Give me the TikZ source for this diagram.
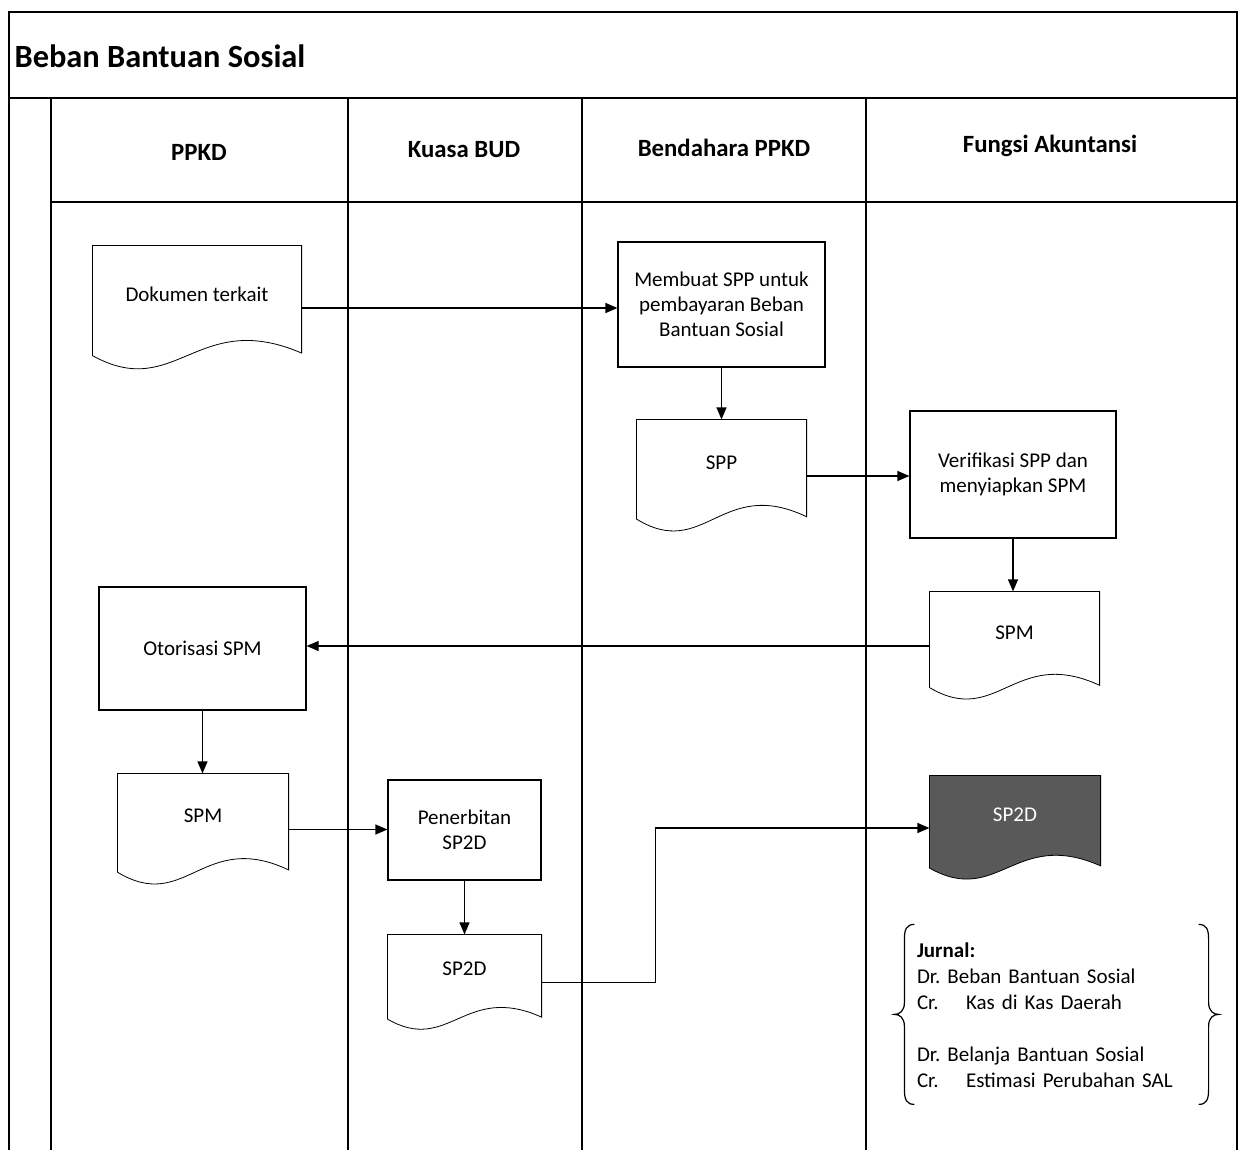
\documentclass[tikz,border=0pt]{standalone}
\usepackage{fontspec}
\setmainfont{Carlito}
\usetikzlibrary{arrows.meta,backgrounds,calc}

\tikzset{
  kotak/.style={draw, align=center},
  dokumen/.style={align=center, text height=7.5pt, text depth=14.5pt, inner sep=0pt},
  panah/.style={-{Triangle[length=6pt,width=5pt]}},
  lajur/.style={font=\bfseries\fontsize{12.4}{14}\selectfont}
}
% outline of a document symbol round a node
\newcommand\bentukdok[2][]{%
  \draw[#1] let \p1=(#2.south west), \p2=(#2.north east), \n1={\x2-\x1}, \n2={\y2-\y1} in
    (\x1,\y2) -- (\x2,\y2) -- ({\x2},{\y1+0.14*\n2})
    .. controls ({\x1+0.5*\n1},{\y1+0.5*\n2}) and ({\x1+0.4*\n1},{\y1-0.25*\n2}) .. ({\x1},{\y1+0.12*\n2}) -- cycle;}

\begin{document}
\begin{tikzpicture}[x=0.5pt, y=-0.5pt, line width=0.6pt, font=\fontsize{10.5}{12.5}\selectfont]
\useasboundingbox (0,0) rectangle (1246,1150);

% frame and lanes
\draw (9,1150) -- (9,12) -- (1237,12) -- (1237,1150);
\draw (9,98) -- (1237,98);
\draw (51,202) -- (1237,202);
\foreach \x in {51,348,582,866} \draw (\x,98) -- (\x,1150);

\node[anchor=west, inner sep=0pt, font=\bfseries\fontsize{16.2}{19}\selectfont] (judul) at (14,56) {Beban Bantuan Sosial};
\foreach \x/\y/\nm/\t in {199/152/ppkd/PPKD, 464/150/bud/Kuasa BUD, 724/148/bend/Bendahara PPKD, 1050/146/akun/Fungsi Akuntansi}
  \node[lajur] (\nm) at (\x,\y) {\t};

% steps
\node[dokumen, minimum width=104pt, minimum height=62pt] (dok) at (197,308) {Dokumen terkait};
\node[kotak, minimum width=103.5pt, minimum height=62.5pt] (buatspp) at (721.5,304.5) {Membuat SPP untuk\\pembayaran Beban\\Bantuan Sosial};
\node[dokumen, minimum width=84.5pt, minimum height=56pt] (spp) at (721.5,476) {SPP};
\node[kotak, minimum width=103pt, minimum height=63.5pt] (verif) at (1013,474.5) {Verifikasi SPP dan\\menyiapkan SPM};
\node[dokumen, minimum width=84.5pt, minimum height=54pt] (spm1) at (1014.5,646) {SPM};
\node[kotak, minimum width=103.5pt, minimum height=61.5pt] (otor) at (202.5,648.5) {Otorisasi SPM};
\node[dokumen, minimum width=85pt, minimum height=55.5pt] (spm2) at (203,829.5) {SPM};
\node[kotak, minimum width=76.5pt, minimum height=50pt] (terbit) at (464.5,830) {Penerbitan\\SP2D};
\node[dokumen, minimum width=76.5pt, minimum height=47.5pt] (sp2d1) at (464.5,982.5) {SP2D};
\node[dokumen, minimum width=85pt, minimum height=52pt, text=white] (sp2d2) at (1015,828) {SP2D};

\begin{scope}[on background layer]
\foreach \d in {dok,spp,spm1,spm2,sp2d1} \bentukdok{\d};
\bentukdok[fill=black!65]{sp2d2};
\end{scope}

% flow
\draw[panah] (dok.east) -- (dok.east -| buatspp.west);
\draw[panah] (buatspp) -- (spp);
\draw[panah] (spp.east) -- (spp.east -| verif.west);
\draw[panah] (verif.south) -- (verif.south |- spm1.north);
\draw[panah] (spm1.west) -- (spm1.west -| otor.east);
\draw[panah] (otor.south) -- (otor.south |- spm2.north);
\draw[panah] (spm2.east) -- (spm2.east -| terbit.west);
\draw[panah] (terbit) -- (sp2d1);
\draw[panah] (sp2d1.east) -- ++(114,0) |- (sp2d2.west);

% journal
\node[align=left, text width=139.5pt, inner xsep=11pt, inner ysep=0pt, minimum height=90pt,
  font=\fontsize{10.5}{13}\selectfont\frenchspacing] (jurnal) at (1056.5,1015)
  {\textbf{Jurnal:}\\Dr. Beban Bantuan Sosial\\\makebox[24.5pt][l]{Cr.}Kas di Kas Daerah\\[13pt]
   Dr. Belanja Bantuan Sosial\\\makebox[24.5pt][l]{Cr.}Estimasi Perubahan SAL};
\begin{scope}[shift={(jurnal.north west)}]
\draw (20,0) .. controls (12,0) and (10,5) .. (10,15) -- (10,78) .. controls (10,87) and (5,90) .. (0,90)
  .. controls (5,90) and (10,93) .. (10,102) -- (10,165) .. controls (10,175) and (12,180) .. (20,180);
\end{scope}
\begin{scope}[shift={(jurnal.north east)}]
\draw (-20,0) .. controls (-12,0) and (-10,5) .. (-10,15) -- (-10,78) .. controls (-10,87) and (-5,90) .. (0,90)
  .. controls (-5,90) and (-10,93) .. (-10,102) -- (-10,165) .. controls (-10,175) and (-12,180) .. (-20,180);
\end{scope}
\end{tikzpicture}
\end{document}
